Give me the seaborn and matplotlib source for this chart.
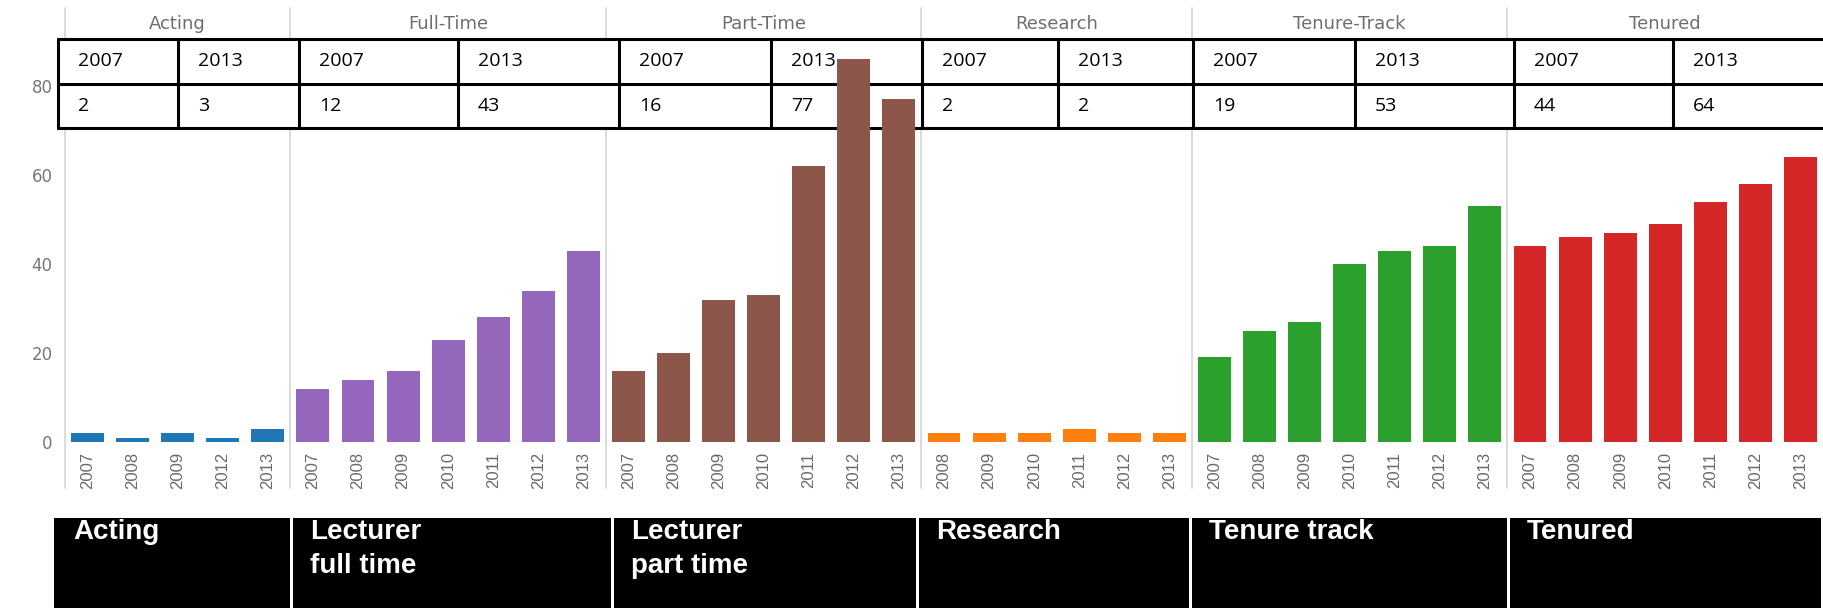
import numpy as np
import pandas as pd
import matplotlib
matplotlib.use("Agg")
import matplotlib.pyplot as plt
import matplotlib.transforms as mtransforms
from matplotlib.lines import Line2D
from matplotlib.patches import Rectangle
import seaborn as sns

# ---------------- data ----------------
groups = ["Acting", "Full-Time", "Part-Time", "Research", "Tenure-Track", "Tenured"]

acting_years = ["2007", "2008", "2009", "2012", "2013"]
acting_vals = [2, 1, 2, 1, 3]
fulltime_years = ["2007", "2008", "2009", "2010", "2011", "2012", "2013"]
fulltime_vals = [12, 14, 16, 23, 28, 34, 43]
parttime_years = ["2007", "2008", "2009", "2010", "2011", "2012", "2013"]
parttime_vals = [16, 20, 32, 33, 62, 86, 77]
research_years = ["2008", "2009", "2010", "2011", "2012", "2013"]
research_vals = [2, 2, 2, 3, 2, 2]
tenuretrack_years = ["2007", "2008", "2009", "2010", "2011", "2012", "2013"]
tenuretrack_vals = [19, 25, 27, 40, 43, 44, 53]
tenured_years = ["2007", "2008", "2009", "2010", "2011", "2012", "2013"]
tenured_vals = [44, 46, 47, 49, 54, 58, 64]

group_colors = ["#1f77b4", "#9467bd", "#8c564b", "#ff7f0e", "#2ca02c", "#d62728"]

table_years = ["2007", "2013"]
table_acting = [2, 3]
table_fulltime = [12, 43]
table_parttime = [16, 77]
table_research = [2, 2]
table_tenuretrack = [19, 53]
table_tenured = [44, 64]

box_labels = ["Acting", "Lecturer\nfull time", "Lecturer\npart time",
              "Research", "Tenure track", "Tenured"]
y_ticks = [0, 20, 40, 60, 80]

# ---------------- build frame ----------------
all_years = [acting_years, fulltime_years, parttime_years, research_years,
             tenuretrack_years, tenured_years]
all_vals = [acting_vals, fulltime_vals, parttime_vals, research_vals,
            tenuretrack_vals, tenured_vals]
rows = []
for g, ys, vs in zip(groups, all_years, all_vals):
    for y, v in zip(ys, vs):
        rows.append({"key": f"{g}|{y}", "year": y, "value": v, "group": g})
df = pd.DataFrame(rows)
order = list(df["key"])
n = len(order)
counts = [len(ys) for ys in all_years]

table_vals = [table_acting, table_fulltime, table_parttime, table_research,
              table_tenuretrack, table_tenured]

# ---------------- layout (pixels) ----------------
W, H = 1823, 608
def fx(x):
    return x / W
def fy(y):
    return 1 - y / H

sns.set_style("white")
plt.rcParams["font.family"] = ["DejaVu Sans"]

fig = plt.figure(figsize=(W / 100, H / 100), dpi=100)
fig.patch.set_facecolor("white")

ax_left, ax_right, ax_top, ax_base = 65, 1823, 8, 442
px_per_unit = 4.45
ax = fig.add_axes([fx(ax_left), fy(ax_base), fx(ax_right) - fx(ax_left),
                   fy(ax_top) - fy(ax_base)])

sns.barplot(data=df, x="key", y="value", hue="group", order=order,
            hue_order=groups, palette=dict(zip(groups, group_colors)),
            dodge=False, width=0.73, saturation=1, legend=False, ax=ax)
for p in ax.patches:
    p.set_zorder(2)
    p.set_edgecolor("none")

ax.set_xlim(-0.5, n - 0.5)
ax.set_ylim(0, (ax_base - ax_top) / px_per_unit)
for s in ax.spines.values():
    s.set_visible(False)
ax.set_xlabel("")
ax.set_ylabel("")

ax.set_xticks(range(n))
ax.set_xticklabels(list(df["year"]), rotation=90, fontsize=12,
                   family="Liberation Sans", color="#6a6a6a")
ax.set_xticks(np.arange(0.5, n - 1, 1), minor=True)
ax.tick_params(axis="x", which="major", length=0, pad=7)
ax.tick_params(axis="x", which="minor", length=4, color="#d0d0d0", width=1)
ax.set_yticks(y_ticks)
ax.set_yticklabels([str(t) for t in y_ticks])
ax.tick_params(axis="y", length=7, color="#cccccc", width=1, labelsize=12,
               labelcolor="#777777", pad=2)
ax.axhline(0, color="#e4e4e4", lw=1, zorder=0.4)

bt = mtransforms.blended_transform_factory(ax.transData, fig.transFigure)

# facet dividers and headers
bounds = np.concatenate([[0], np.cumsum(counts)]) - 0.5
for b in bounds[:-1]:
    ax.add_line(Line2D([b, b], [fy(8), fy(488)], transform=bt, color="#d4d4d4",
                       lw=1.2, clip_on=False, zorder=0.3))
for i, g in enumerate(groups):
    cx = (bounds[i] + bounds[i + 1]) / 2
    ax.text(cx, fy(29), g, transform=bt, ha="center", va="baseline",
            fontsize=13, color="#6e6e6e", family="DejaVu Sans", zorder=0.3)

# overlay table
col_lefts = [58, 178, 299, 458, 619, 771, 922, 1058, 1193, 1355, 1514, 1673]
tbl_right = 1823
r_top, r_mid, r_bot = 39, 84, 128
ax.add_patch(Rectangle((fx(col_lefts[0]), fy(r_bot)), fx(tbl_right) - fx(col_lefts[0]),
                       fy(r_top) - fy(r_bot), transform=fig.transFigure,
                       facecolor="white", edgecolor="none", zorder=0.5, clip_on=False))
for yy in (r_top, r_mid, r_bot):
    ax.add_line(Line2D([fx(col_lefts[0]), fx(tbl_right)], [fy(yy), fy(yy)],
                       transform=fig.transFigure, color="black", lw=2.2,
                       clip_on=False, zorder=0.6))
for xx in col_lefts:
    ax.add_line(Line2D([fx(xx), fx(xx)], [fy(r_top), fy(r_bot)],
                       transform=fig.transFigure, color="black", lw=2.2,
                       clip_on=False, zorder=0.6))
ci = 0
for gi in range(len(groups)):
    for k in range(2):
        x0 = col_lefts[ci]
        ax.text(fx(x0 + 20), fy((r_top + r_mid) / 2), table_years[k],
                transform=fig.transFigure, ha="left", va="center",
                fontsize=14, family="Open Sans", color="black", zorder=0.7)
        ax.text(fx(x0 + 20), fy((r_mid + r_bot) / 2), str(table_vals[gi][k]),
                transform=fig.transFigure, ha="left", va="center",
                fontsize=14, family="Open Sans", color="black", zorder=0.7)
        ci += 1

# black label boxes
box_edges = [54, 291, 612, 917, 1190, 1508, 1822]
for i, lab in enumerate(box_labels):
    l = box_edges[i] + (0 if i == 0 else 1.5)
    r = box_edges[i + 1] - 1.5
    ax.add_patch(Rectangle((fx(l), 0), fx(r) - fx(l), fy(518),
                           transform=fig.transFigure, facecolor="black",
                           edgecolor="none", zorder=5, clip_on=False))
    ax.text(fx(box_edges[i] + 19), fy(519), lab, transform=fig.transFigure,
            ha="left", va="top", fontsize=20, fontweight="bold",
            family="Liberation Sans", color="white", linespacing=1.42,
            zorder=6)

fig.savefig("out.png", dpi=100, facecolor="white")
